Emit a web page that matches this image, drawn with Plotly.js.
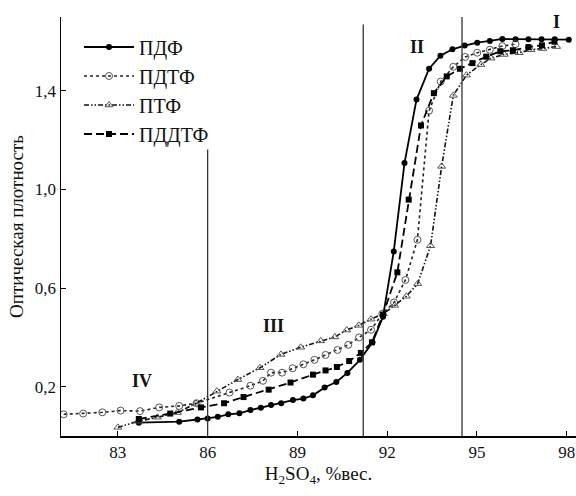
<!DOCTYPE html>
<html>
<head>
<meta charset="utf-8">
<script src="https://cdn.plot.ly/plotly-3.0.1.min.js"></script>
<style>html,body{margin:0;padding:0;background:#fff;}#chart{width:576px;height:496px;}</style>
</head>
<body>
<div id="chart"></div>
<script>
// ---- data ----
var seriesNames = ["ПДФ", "ПДТФ", "ПТФ", "ПДДТФ"];

var pdfX = [83.70, 85.05, 85.66, 86.00, 86.34, 86.69, 87.06, 87.43, 87.78, 88.12, 88.46, 88.85, 89.20, 89.52, 89.91, 90.30, 90.67, 91.09, 91.51, 91.86, 92.22, 92.58, 92.98, 93.40, 93.78, 94.18, 94.59, 95.01, 95.43, 95.85, 96.29, 96.72, 97.16, 97.60, 98.07];
var pdfY = [0.054, 0.058, 0.067, 0.071, 0.078, 0.088, 0.092, 0.105, 0.115, 0.126, 0.133, 0.146, 0.152, 0.165, 0.197, 0.219, 0.256, 0.309, 0.380, 0.484, 0.749, 1.108, 1.365, 1.490, 1.543, 1.569, 1.584, 1.596, 1.603, 1.611, 1.610, 1.610, 1.610, 1.610, 1.608];

var pdtfX = [81.19, 81.84, 82.48, 83.09, 83.74, 84.38, 85.05, 85.63, 86.73, 87.43, 87.85, 88.12, 88.49, 88.84, 89.20, 89.57, 89.94, 90.34, 90.70, 91.06, 91.46, 91.84, 92.23, 92.61, 93.01, 93.40, 93.79, 94.21, 94.61, 95.01, 95.43, 95.85, 96.29];
var pdtfY = [0.088, 0.091, 0.096, 0.103, 0.101, 0.116, 0.122, 0.133, 0.176, 0.204, 0.224, 0.257, 0.257, 0.275, 0.291, 0.309, 0.329, 0.349, 0.370, 0.400, 0.431, 0.496, 0.542, 0.633, 0.796, 1.320, 1.438, 1.498, 1.538, 1.555, 1.567, 1.582, 1.590];

var ptfX = [83.00, 83.68, 84.32, 84.99, 85.61, 86.31, 87.01, 87.75, 88.45, 89.11, 89.78, 90.25, 90.65, 91.05, 91.46, 91.87, 92.25, 92.64, 93.02, 93.45, 93.82, 94.21, 94.65, 95.13, 95.47, 95.91, 96.41, 96.80, 97.20, 97.66];
var ptfY = [0.035, 0.060, 0.076, 0.095, 0.132, 0.182, 0.229, 0.277, 0.331, 0.360, 0.386, 0.402, 0.430, 0.449, 0.474, 0.496, 0.530, 0.567, 0.618, 0.772, 1.094, 1.382, 1.464, 1.507, 1.533, 1.548, 1.555, 1.567, 1.572, 1.580];

var pddtfX = [83.70, 84.75, 85.78, 86.55, 87.20, 88.04, 88.77, 89.52, 89.94, 90.32, 90.73, 91.12, 91.49, 91.86, 92.34, 92.72, 93.13, 93.56, 93.99, 94.43, 94.85, 95.31, 95.78, 96.20, 96.72, 97.17, 97.59];
var pddtfY = [0.069, 0.091, 0.116, 0.133, 0.158, 0.188, 0.217, 0.249, 0.266, 0.280, 0.304, 0.337, 0.380, 0.492, 0.664, 0.959, 1.260, 1.391, 1.459, 1.490, 1.513, 1.539, 1.561, 1.565, 1.578, 1.585, 1.600];

var xTickVals = [83, 86, 89, 92, 95, 98];
var yTickVals = [0.2, 0.6, 1.0, 1.4];
var yTickText = ["0,2", "0,6", "1,0", "1,4"];

var boundaryX = [86.0, 91.2, 94.5];
var boundaryTop = [1.162, 1.67, 1.70];

var regionLabels = ["I", "II", "III", "IV"];
var regionX = [97.65, 93.0, 88.2, 83.8];
var regionY = [1.68, 1.58, 0.445, 0.222];

// ---- chart ----
var serif = "Liberation Serif, Times New Roman, serif";

var traces = [
  {x: pdfX, y: pdfY, name: seriesNames[0], mode: "lines+markers",
   line: {color: "#000", width: 1.8, dash: "solid"},
   marker: {symbol: "circle", size: 6, color: "#000"}},
  {x: pdtfX, y: pdtfY, name: seriesNames[1], mode: "lines+markers",
   line: {color: "#222", width: 1.6, dash: "dot"},
   marker: {symbol: "circle-open", size: 7, color: "#555", line: {width: 1}}},
  {x: ptfX, y: ptfY, name: seriesNames[2], mode: "lines+markers",
   line: {color: "#111", width: 1.6, dash: "5px,2px,1.5px,2px,1.5px,2px"},
   marker: {symbol: "triangle-up-open", size: 7, color: "#555", line: {width: 1}}},
  {x: pddtfX, y: pddtfY, name: seriesNames[3], mode: "lines+markers",
   line: {color: "#000", width: 1.8, dash: "8px,4px"},
   marker: {symbol: "square", size: 6, color: "#000"}}
];

var shapes = boundaryX.map(function (bx, i) {
  return {type: "line", xref: "x", yref: "y", x0: bx, x1: bx, y0: 0, y1: boundaryTop[i],
          line: {color: "#333", width: 1.3}};
});

var annotations = regionLabels.map(function (t, i) {
  return {x: regionX[i], y: regionY[i], xref: "x", yref: "y", text: "<b>" + t + "</b>",
          showarrow: false, font: {family: serif, size: 18, color: "#111"}};
});

var layout = {
  width: 576, height: 496,
  margin: {l: 61, r: 0, t: 17, b: 60},
  paper_bgcolor: "#fff", plot_bgcolor: "#fff",
  font: {family: serif, color: "#111", size: 17},
  showlegend: true,
  legend: {x: 0.035, y: 0.975, xanchor: "left", yanchor: "top",
           font: {family: serif, size: 20, color: "#111"}, bgcolor: "rgba(0,0,0,0)",
           itemwidth: 50, tracegroupgap: 0},
  xaxis: {range: [81.1, 98.31], showgrid: false, zeroline: false,
          showline: true, linecolor: "#000", linewidth: 1.5,
          ticks: "inside", ticklen: 5, tickcolor: "#000",
          tickvals: xTickVals, ticktext: xTickVals.map(String),
          tickfont: {family: serif, size: 17, color: "#111"},
          title: {text: "H<sub>2</sub>SO<sub>4</sub>, %вес.", font: {family: serif, size: 19, color: "#111"}, standoff: 6}},
  yaxis: {range: [0, 1.70], showgrid: false, zeroline: false,
          showline: true, linecolor: "#000", linewidth: 1.5,
          ticks: "inside", ticklen: 5, tickcolor: "#000",
          tickvals: yTickVals, ticktext: yTickText,
          tickfont: {family: serif, size: 17, color: "#111"},
          title: {text: "Оптическая плотность", font: {family: serif, size: 19, color: "#111"}, standoff: 6}},
  shapes: shapes,
  annotations: annotations
};

Plotly.newPlot("chart", traces, layout, {staticPlot: true, displayModeBar: false});
</script>
</body>
</html>
